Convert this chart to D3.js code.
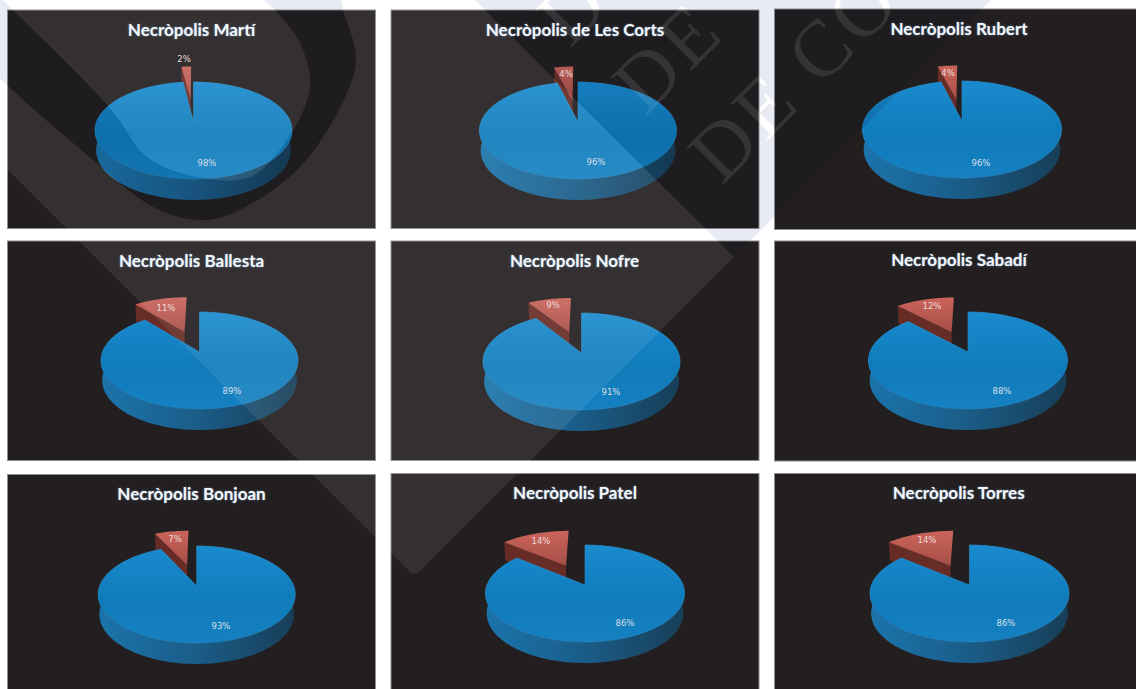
<!DOCTYPE html>
<html>
<head>
<meta charset="utf-8">
<style>
  html, body { margin: 0; padding: 0; background: #fff; overflow: hidden; }
  svg { display: block; }
</style>
<script src="https://cdn.jsdelivr.net/npm/d3@7"></script>
</head>
<body>
<div class="content"></div>
<script>
var titles = [
  'Necròpolis Martí', 'Necròpolis de Les Corts', 'Necròpolis Rubert',
  'Necròpolis Ballesta', 'Necròpolis Nofre', 'Necròpolis Sabadí',
  'Necròpolis Bonjoan', 'Necròpolis Patel', 'Necròpolis Torres'
];
var blueValues = [98, 96, 96, 89, 91, 88, 93, 86, 86];
var redValues = [2, 4, 4, 11, 9, 12, 7, 14, 14];

// page layout, one row per panel: x, y, w, h, pie x, pie y, radius, title x, title y
var panels = [
  [7.5, 10, 368, 218.5, 193.5, 122, 97, 191.5, 36],
  [391, 10, 368, 218.5, 578, 122, 97, 575, 36],
  [774.5, 9, 370, 220.5, 962, 121, 98, 959, 35],
  [7.5, 241, 368, 219.5, 199.5, 352, 97, 191.5, 267],
  [391, 241, 368, 219.5, 581.5, 353, 97, 574.5, 267],
  [774.5, 241, 370, 220, 968, 352, 98, 959, 266],
  [7.5, 474.5, 368, 230, 196.7, 586, 97, 191.5, 500],
  [391, 473.5, 368, 230, 585, 585, 98, 575, 499],
  [774.5, 473.5, 370, 230, 969.5, 585, 98, 958.7, 499]
];
// label centres: blue x, blue y, red x, red y
var labelSpots = [
  [207, 163, 184, 59],
  [596, 162, 566, 74],
  [981, 163, 948, 73],
  [232, 391, 166, 308],
  [611, 392, 553, 305],
  [1002, 391, 932, 306],
  [221, 626, 175, 539],
  [625, 623, 541, 541],
  [1006, 623, 927, 540]
];

var ry = 47, persp = 0.175, explode = 0.49;

var svg = d3.select('.content')
  .append('svg')
  .attr('width', 1136)
  .attr('height', 689);

var defs = svg.append('defs');

function gradient(id, x2, y2, stops) {
  var g = defs.append('linearGradient')
    .attr('id', id)
    .attr('x1', '0%').attr('y1', '0%')
    .attr('x2', x2).attr('y2', y2);
  stops.forEach(function (s) {
    g.append('stop').attr('offset', s[0]).style('stop-color', s[1]);
  });
}
gradient('blueTop', '0%', '100%', [['0%', '#1a8bcf'], ['55%', '#0f7bba'], ['100%', '#1581c2']]);
gradient('blueSide', '100%', '0%', [['0%', '#1b74ab'], ['45%', '#1b5f8c'], ['100%', '#173e57']]);
gradient('redTop', '0%', '100%', [['0%', '#cb645b'], ['100%', '#a64e47']]);

var pie = d3.pie().sort(null).startAngle(0).endAngle(2 * Math.PI);

// angle 0 is 12 o'clock. z = 0 is the top face, z = 1 the bottom one
function project(d, a, r, offX, offY, z) {
  var X = offX + r * Math.sin(a),
    Y = offY - r * Math.cos(a),
    w = 1 - persp * Y,
    s = 1 - 0.012 * z;
  return [d.cx + d.radius * s * X / w, d.cy + ry * Y / w + z * (19.5 + 1.5 * Y)];
}

function rimAngles(a0, a1) {
  var n = Math.ceil((a1 - a0) / 0.03);
  return d3.range(n + 1).map(function (i) { return a0 + (a1 - a0) * i / n; });
}

var line = d3.line();

function topPath(d, arc, ox, oy) {
  var pts = [project(d, 0, 0, ox, oy, 0)];
  rimAngles(arc.startAngle, arc.endAngle).forEach(function (a) {
    pts.push(project(d, a, 1, ox, oy, 0));
  });
  return line(pts) + 'Z';
}

function rimPath(d, arc, ox, oy) {
  var angles = rimAngles(arc.startAngle, arc.endAngle);
  var rim = angles.map(function (a) { return project(d, a, 1, ox, oy, 0); });
  var low = angles.slice().reverse().map(function (a) { return project(d, a, 1, ox, oy, 1); });
  return line(rim.concat(low)) + 'Z';
}

function wallPath(d, a, ox, oy) {
  return line([
    project(d, 0, 0, ox, oy, 0),
    project(d, a, 1, ox, oy, 0),
    project(d, a, 1, ox, oy, 1),
    project(d, 0, 0, ox, oy, 1)
  ]) + 'Z';
}

var chartData = titles.map(function (t, i) {
  var p = panels[i];
  return {
    title: t,
    values: [blueValues[i], redValues[i]],
    x: p[0], y: p[1], w: p[2], h: p[3],
    cx: p[4], cy: p[5], radius: p[6],
    tx: p[7], ty: p[8],
    spots: labelSpots[i]
  };
});

// the pale watermark bands show on the white page between the panels
var bandU = d3.line().curve(d3.curveCatmullRom.alpha(0.5))([
  [-78, 0], [7, 85], [97, 163], [153, 207], [197, 220], [233, 213], [300, 167],
  [347, 93], [356, 57], [343, 10], [340, 0], [265, 0], [275, 10], [300, 43], [310, 87],
  [287, 140], [250, 177], [197, 177], [147, 157], [110, 108], [13, 10], [3, 0]
]) + 'Z';
var bandTri = 'M475,0L734,257L991,0Z';

var diamond = d3.path();
diamond.moveTo(-162, 0);
diamond.arcTo(414.5, 576.5, 991, 0, 7);
diamond.lineTo(991, 0);
diamond.closePath();

var letters = [
  ['D', 570, 49],
  ['DE', 646, 116],
  ['DE CO', 722, 186]
];

function addLetters(sel, fill) {
  sel.selectAll('text')
    .data(letters)
    .enter()
    .append('text')
    .attr('transform', function (d) { return 'translate(' + d[1] + ',' + d[2] + ') rotate(-45)'; })
    .attr('font-family', '"Liberation Serif", serif')
    .attr('font-size', 80)
    .attr('letter-spacing', 4)
    .attr('fill', fill)
    .text(function (d) { return d[0]; });
}

var noBand = defs.append('mask').attr('id', 'noBand')
  .attr('maskUnits', 'userSpaceOnUse')
  .attr('x', 0).attr('y', 0).attr('width', 1136).attr('height', 689);
noBand.append('rect').attr('width', 1136).attr('height', 689).attr('fill', '#fff');
noBand.append('path').attr('d', bandU).attr('fill', '#000');
noBand.append('path').attr('d', bandTri).attr('fill', '#000');

var noLetters = defs.append('mask').attr('id', 'noLetters')
  .attr('maskUnits', 'userSpaceOnUse')
  .attr('x', 0).attr('y', 0).attr('width', 1136).attr('height', 689);
noLetters.append('rect').attr('width', 1136).attr('height', 689).attr('fill', '#fff');
addLetters(noLetters.append('g'), '#000');

var panelClip = defs.append('clipPath').attr('id', 'panelClip');
panelClip.selectAll('rect')
  .data(chartData)
  .enter()
  .append('rect')
  .attr('x', function (d) { return d.x; })
  .attr('y', function (d) { return d.y; })
  .attr('width', function (d) { return d.w; })
  .attr('height', function (d) { return d.h; });

var pale = svg.append('g').attr('mask', 'url(#noLetters)');
pale.append('path').attr('d', bandU).attr('fill', '#e8ebf4');
pale.append('path').attr('d', bandTri).attr('fill', '#e8ebf4');

// panels
svg.selectAll('.panel')
  .data(chartData)
  .enter()
  .append('rect')
  .attr('class', 'panel')
  .attr('x', function (d) { return d.x; })
  .attr('y', function (d) { return d.y; })
  .attr('width', function (d) { return d.w; })
  .attr('height', function (d) { return d.h; })
  .attr('fill', '#231f20')
  .attr('stroke', '#8c8c8c')
  .attr('stroke-width', 1);

// pies
chartData.forEach(function (d) {
  var arcs = pie(d.values),
    blue = arcs[0],
    red = arcs[1],
    mid = (red.startAngle + red.endAngle) / 2,
    ox = explode * Math.sin(mid),
    oy = -explode * Math.cos(mid);
  var g = svg.append('g').attr('class', 'pie');

  g.append('path').attr('d', wallPath(d, red.startAngle, ox, oy)).attr('fill', '#682c27');
  g.append('path').attr('d', topPath(d, red, ox, oy)).attr('fill', 'url(#redTop)');
  g.append('path').attr('d', rimPath(d, blue, 0, 0)).attr('fill', 'url(#blueSide)');
  g.append('path').attr('d', topPath(d, blue, 0, 0))
    .attr('fill', 'url(#blueTop)')
    .attr('stroke', '#2a8fcb')
    .attr('stroke-width', 0.6);
});

// the scanned watermark also lies over the charts
var mark = svg.append('g').attr('class', 'watermark').style('pointer-events', 'none');
mark.append('path')
  .attr('d', diamond.toString())
  .attr('fill', '#fff')
  .attr('fill-opacity', 0.08)
  .attr('mask', 'url(#noBand)');
var bands = mark.append('g').attr('clip-path', 'url(#panelClip)');
bands.append('path').attr('d', bandU).attr('fill', '#00062a').attr('fill-opacity', 0.1);
bands.append('path').attr('d', bandTri).attr('fill', '#00062a').attr('fill-opacity', 0.1);
addLetters(bands.append('g').attr('fill-opacity', 0.1), '#fff');

// titles and labels
svg.selectAll('.title')
  .data(chartData)
  .enter()
  .append('text')
  .attr('class', 'title')
  .attr('x', function (d) { return d.tx; })
  .attr('y', function (d) { return d.ty; })
  .attr('text-anchor', 'middle')
  .attr('font-family', 'Lato, sans-serif')
  .attr('font-weight', 700)
  .attr('font-size', 17)
  .attr('fill', '#f4f7fa')
  .style('text-shadow', '0 0 2px rgba(140,190,235,0.7)')
  .text(function (d) { return d.title; });

chartData.forEach(function (d) {
  svg.append('text')
    .attr('x', d.spots[0]).attr('y', d.spots[1])
    .attr('dy', '0.35em')
    .attr('text-anchor', 'middle')
    .attr('font-family', '"DejaVu Sans", sans-serif')
    .attr('font-size', 8.5)
    .attr('fill', '#d5dfe8')
    .text(d.values[0] + '%');
  svg.append('text')
    .attr('x', d.spots[2]).attr('y', d.spots[3])
    .attr('dy', '0.35em')
    .attr('text-anchor', 'middle')
    .attr('font-family', '"DejaVu Sans", sans-serif')
    .attr('font-size', 8.5)
    .attr('fill', '#eddcda')
    .text(d.values[1] + '%');
});
</script>
</body>
</html>
